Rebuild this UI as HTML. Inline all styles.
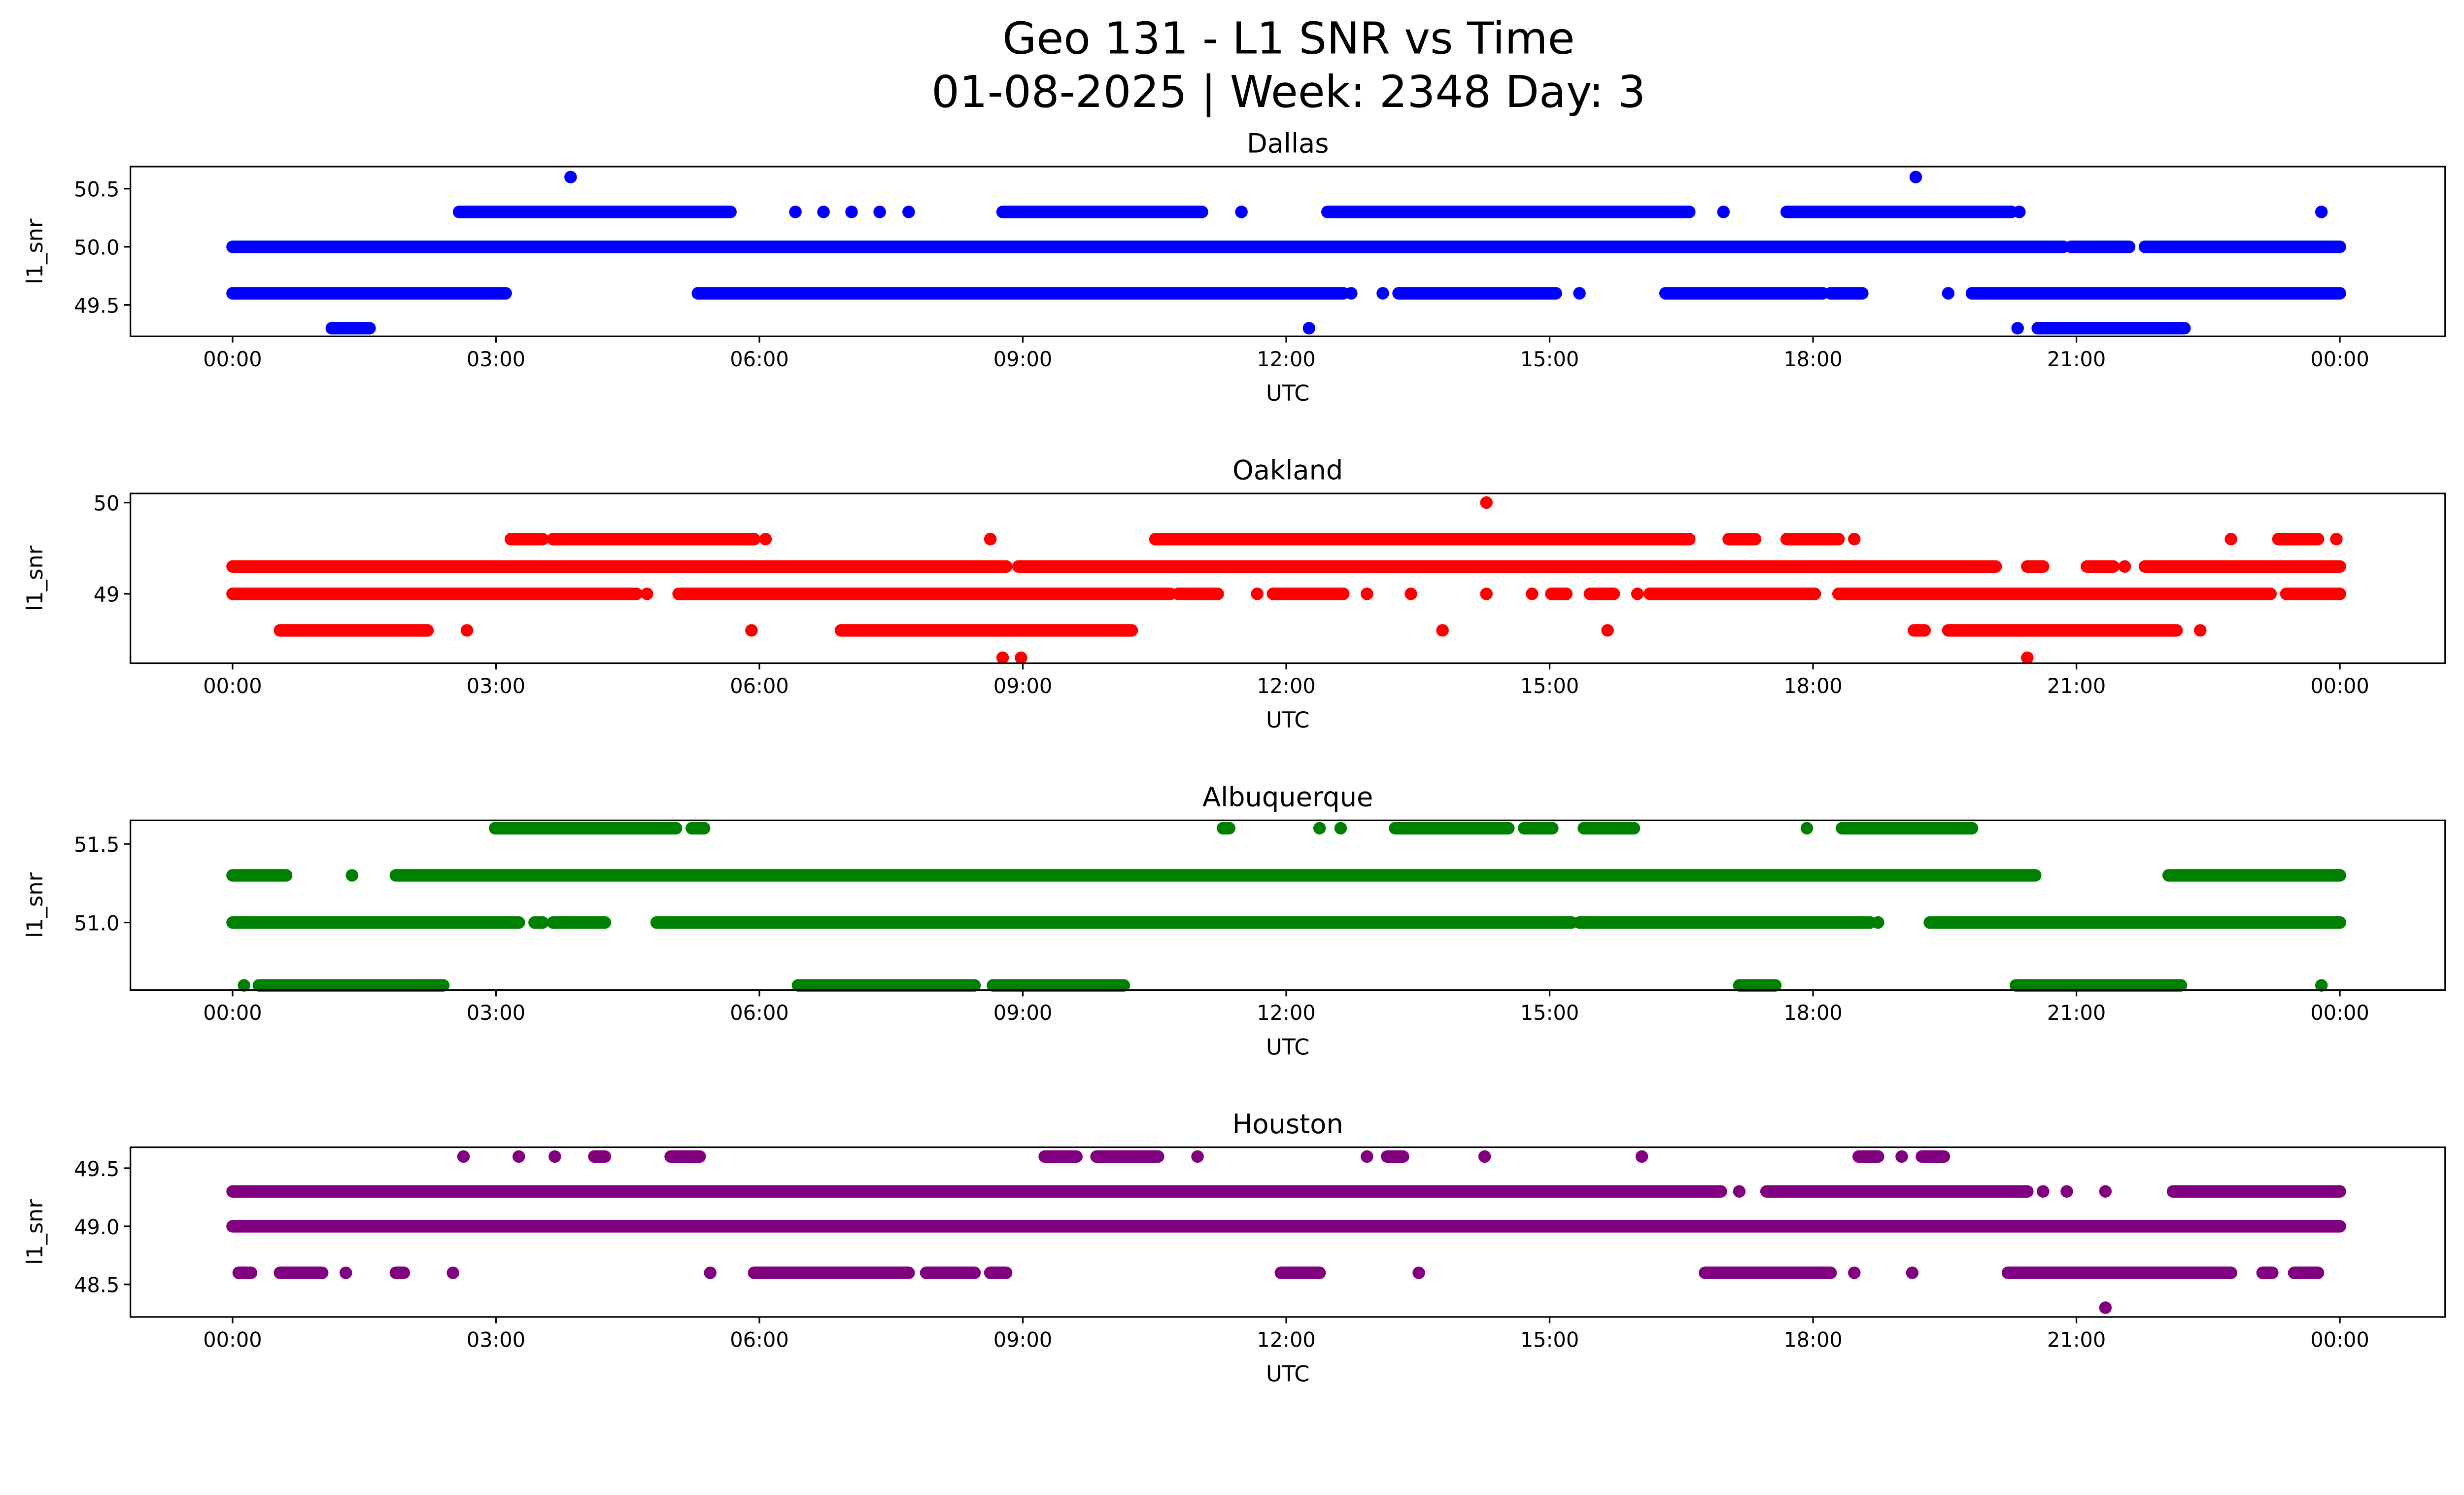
<!DOCTYPE html>
<html><head><meta charset="utf-8"><style>
html,body{margin:0;padding:0;background:#fff;overflow:hidden}
svg{display:block;position:absolute;left:0;top:0;width:100vw;height:57.4541vw;font-family:"DejaVu Sans","Liberation Sans",sans-serif}
</style></head><body>
<svg viewBox="0 0 1568 901" preserveAspectRatio="none" xmlns="http://www.w3.org/2000/svg">
<rect width="1568" height="901" fill="#fff"/>
<g id="fig">
<text x="820" y="34" font-size="28" text-anchor="middle">Geo 131 - L1 SNR vs Time</text>
<text x="820" y="68" font-size="28" text-anchor="middle">01-08-2025 | Week: 2348 Day: 3</text>
</g>
</svg>
<script>
// x-axis tick labels (hours)
const xTickHours = [0,3,6,9,12,15,18,21,24];
const xTickLabels = ["00:00","03:00","06:00","09:00","12:00","15:00","18:00","21:00","00:00"];

// Each series: [startHour, endHour] runs of observations at one SNR level
const dallas506 = [[3.85,3.85],[19.17,19.17]];
const dallas503 = [[2.58,5.67],[6.41,6.41],[6.73,6.73],[7.05,7.05],[7.37,7.37],[7.70,7.70],[8.77,11.04],[11.49,11.49],[12.47,16.59],[16.98,16.98],[17.70,20.26],[20.35,20.35],[23.79,23.79]];
const dallas500 = [[0,20.85],[20.94,21.60],[21.78,24]];
const dallas496 = [[0,3.11],[5.30,12.65],[12.74,12.74],[13.10,13.10],[13.28,15.07],[15.34,15.34],[16.32,18.11],[18.20,18.56],[19.54,19.54],[19.81,24]];
const dallas493 = [[1.13,1.56],[12.26,12.26],[20.33,20.33],[20.56,22.23]];

const oakland500 = [[14.28,14.28]];
const oakland496 = [[3.17,3.53],[3.65,5.94],[6.07,6.07],[8.63,8.63],[10.51,16.59],[17.04,17.34],[17.70,18.29],[18.47,18.47],[22.76,22.76],[23.30,23.75],[23.96,23.96]];
const oakland493 = [[0,8.81],[8.95,20.08],[20.44,20.62],[21.12,21.42],[21.55,21.55],[21.78,24]];
const oakland490 = [[0,4.60],[4.72,4.72],[5.08,10.68],[10.77,11.22],[11.67,11.67],[11.85,12.65],[12.92,12.92],[13.42,13.42],[14.28,14.28],[14.80,14.80],[15.02,15.19],[15.46,15.73],[16.00,16.00],[16.14,18.02],[18.29,23.21],[23.39,24]];
const oakland486 = [[0.54,2.22],[2.67,2.67],[5.91,5.91],[6.93,10.24],[19.15,19.27],[19.54,22.14],[22.41,22.41],[13.78,13.78],[15.66,15.66]];
const oakland483 = [[8.77,8.77],[8.98,8.98],[20.44,20.44]];

const alb516 = [[2.99,5.05],[5.23,5.37],[11.28,11.35],[12.38,12.38],[12.62,12.62],[13.24,14.53],[14.71,15.03],[15.39,15.96],[17.93,17.93],[18.33,19.81]];
const alb513 = [[0,0.61],[1.36,1.36],[1.86,20.53],[22.05,24]];
const alb510 = [[0,3.26],[3.44,3.53],[3.65,4.24],[4.83,15.25],[15.34,18.65],[18.74,18.74],[19.33,24]];
const alb506 = [[0.13,0.13],[0.30,2.40],[6.44,8.45],[8.66,10.15],[17.16,17.57],[20.31,22.19],[23.79,23.79]];

const hou496 = [[2.63,2.63],[3.26,3.26],[3.67,3.67],[4.12,4.24],[4.99,5.32],[9.25,9.61],[9.84,10.54],[10.99,10.99],[12.92,12.92],[13.15,13.33],[14.26,14.26],[16.05,16.05],[18.52,18.74],[19.01,19.01],[19.24,19.49]];
const hou493 = [[0,16.95],[17.16,17.16],[17.47,20.44],[20.62,20.62],[20.89,20.89],[21.33,21.33],[22.10,24]];
const hou490 = [[0,24]];
const hou486 = [[0.07,0.21],[0.54,1.02],[1.29,1.29],[1.86,1.95],[2.51,2.51],[5.44,5.44],[5.94,7.70],[7.90,8.45],[8.63,8.81],[11.94,12.38],[13.51,13.51],[16.77,18.20],[18.47,18.47],[19.13,19.13],[20.22,22.76],[23.12,23.23],[23.48,23.75]];
const hou483 = [[21.33,21.33]];

const panels = [
  {name:"dallas", title:"Dallas", color:"#0000ff", top:106, yMin:49.23, yMax:50.69, ticks:[49.5,50.0,50.5], tickFmt:1,
   series:[[50.6,dallas506],[50.3,dallas503],[50.0,dallas500],[49.6,dallas496],[49.3,dallas493]]},
  {name:"oakland", title:"Oakland", color:"#ff0000", top:314, yMin:48.24, yMax:50.10, ticks:[49,50], tickFmt:0,
   series:[[50.0,oakland500],[49.6,oakland496],[49.3,oakland493],[49.0,oakland490],[48.6,oakland486],[48.3,oakland483]]},
  {name:"albuquerque", title:"Albuquerque", color:"#008000", top:522, yMin:50.57, yMax:51.65, ticks:[51.0,51.5], tickFmt:1,
   series:[[51.6,alb516],[51.3,alb513],[51.0,alb510],[50.6,alb506]]},
  {name:"houston", title:"Houston", color:"#800080", top:730, yMin:48.22, yMax:49.68, ticks:[48.5,49.0,49.5], tickFmt:1,
   series:[[49.6,hou496],[49.3,hou493],[49.0,hou490],[48.6,hou486],[48.3,hou483]]}
];

const NS = "http://www.w3.org/2000/svg";
const svg = document.getElementById("fig");
const L = 83, R = 1556, H = 108;
const xScale = h => 148 + h * (1341 / 24);
function mk(tag, attrs, parent) {
  const e = document.createElementNS(NS, tag);
  for (const k in attrs) e.setAttribute(k, attrs[k]);
  (parent || svg).appendChild(e);
  return e;
}
panels.forEach(p => {
  const g = mk("g", {});
  
  
  const yScale = v => p.top + (p.yMax - v) / (p.yMax - p.yMin) * H;
  const t = mk("text", {x: (L + R) / 2, y: p.top - 9, "font-size": 17, "text-anchor": "middle"}, g);
  t.textContent = p.title;
  
  
  const pts = mk("g", {fill: p.color, stroke: p.color}, g);
  
  
  p.series.forEach(([lvl, runs]) => {
    const y = yScale(lvl);
    runs.forEach(([a, b]) => {
      let m;
      if (a === b) {
        m = mk("circle", {cx: xScale(a), cy: y, r: 4, stroke: "none"}, pts);
      } else {
        m = mk("line", {x1: xScale(a), x2: xScale(b), y1: y, y2: y, "stroke-width": 8, "stroke-linecap": "round"}, pts);
      }
      
      
    });
  });
  const f = mk("rect", {x: L, y: p.top, width: R - L, height: H, fill: "none", stroke: "#000", "stroke-width": 1}, g);
  
  
  xTickHours.forEach((h, i) => {
    const x = xScale(h);
    const tk = mk("line", {x1: x, x2: x, y1: p.top + H, y2: p.top + H + 4, stroke: "#000", "stroke-width": 1}, g);
    
    
    const lb = mk("text", {x: x, y: p.top + H + 19, "font-size": 13, "text-anchor": "middle"}, g);
    lb.textContent = xTickLabels[i];
    
    
  });
  p.ticks.forEach(v => {
    const y = yScale(v);
    const tk = mk("line", {x1: L - 4, x2: L, y1: y, y2: y, stroke: "#000", "stroke-width": 1}, g);
    
    
    const lb = mk("text", {x: L - 7, y: y + 5, "font-size": 13, "text-anchor": "end"}, g);
    lb.textContent = v.toFixed(p.tickFmt);
    
    
  });
  const xl = mk("text", {x: (L + R) / 2, y: p.top + H + 41, "font-size": 14, "text-anchor": "middle"}, g);
  xl.textContent = "UTC";
  
  
  const cy = p.top + H / 2;
  const yl = mk("text", {x: 27, y: cy, "font-size": 14, "text-anchor": "middle", transform: "rotate(-90 27 " + cy + ")"}, g);
  yl.textContent = "l1_snr";
  
  
});
</script>
</body></html>
